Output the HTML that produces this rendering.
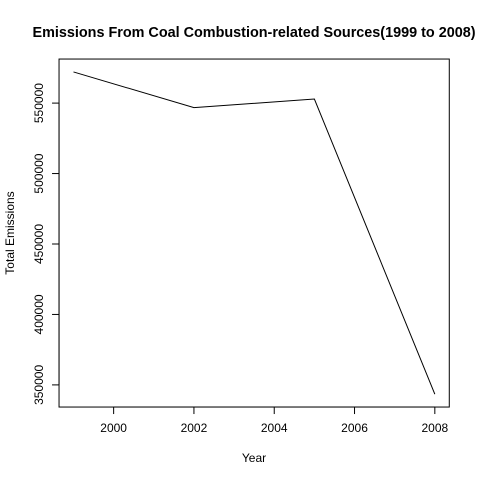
<!DOCTYPE html>
<html><head><meta charset="utf-8"><style>
html,body{margin:0;padding:0;background:#fff;}
svg{display:block;font-family:"Liberation Sans",Arial,sans-serif;}
</style></head><body>
<svg id="chart" width="480" height="480">
<rect width="480" height="480" fill="#fff"/>
<text x="254" y="37" text-anchor="middle" font-size="14.4" font-weight="bold">Emissions From Coal Combustion-related Sources(1999 to 2008)</text>
<rect x="59.04" y="59.04" width="390.24" height="348" fill="none" stroke="#000" stroke-width="1"/>
<g id="xaxis"></g>
<g id="yaxis"></g>
<text x="254" y="462" text-anchor="middle" font-size="12">Year</text>
<text transform="translate(14,233) rotate(-90)" text-anchor="middle" font-size="12">Total Emissions</text>
<path id="line" fill="none" stroke="#000" stroke-width="1"/>
</svg>
<script>
const years = [1999, 2002, 2005, 2008];
const emissions = [572126, 546789, 552881, 343432];
const xTicks = [2000, 2002, 2004, 2006, 2008];
const yTicks = [350000, 400000, 450000, 500000, 550000];

const L = 59.04, R = 449.28, T = 59.04, B = 407.04;
const xmin = Math.min(...years), xmax = Math.max(...years);
const ymin = Math.min(...emissions), ymax = Math.max(...emissions);
const xlo = xmin - 0.04*(xmax-xmin), xhi = xmax + 0.04*(xmax-xmin);
const ylo = ymin - 0.04*(ymax-ymin), yhi = ymax + 0.04*(ymax-ymin);
const sx = v => L + (v - xlo)/(xhi - xlo)*(R - L);
const sy = v => B - (v - ylo)/(yhi - ylo)*(B - T);
const NS = "http://www.w3.org/2000/svg";

const xg = document.getElementById('xaxis');
const xl = document.createElementNS(NS,'line');
xl.setAttribute('x1', sx(xTicks[0])); xl.setAttribute('x2', sx(xTicks[xTicks.length-1]));
xl.setAttribute('y1', B); xl.setAttribute('y2', B); xl.setAttribute('stroke','#000');


xg.appendChild(xl);
xTicks.forEach(t => {
  const tk = document.createElementNS(NS,'line');
  tk.setAttribute('x1', sx(t)); tk.setAttribute('x2', sx(t));
  tk.setAttribute('y1', B); tk.setAttribute('y2', B+7); tk.setAttribute('stroke','#000');
  
  
  xg.appendChild(tk);
  const tx = document.createElementNS(NS,'text');
  tx.setAttribute('x', sx(t)); tx.setAttribute('y', B+25);
  tx.setAttribute('text-anchor','middle'); tx.setAttribute('font-size','12');
  tx.textContent = t;
  
  
  xg.appendChild(tx);
});

const yg = document.getElementById('yaxis');
const yl = document.createElementNS(NS,'line');
yl.setAttribute('y1', sy(yTicks[0])); yl.setAttribute('y2', sy(yTicks[yTicks.length-1]));
yl.setAttribute('x1', L); yl.setAttribute('x2', L); yl.setAttribute('stroke','#000');


yg.appendChild(yl);
yTicks.forEach(t => {
  const tk = document.createElementNS(NS,'line');
  tk.setAttribute('y1', sy(t)); tk.setAttribute('y2', sy(t));
  tk.setAttribute('x1', L); tk.setAttribute('x2', L-7); tk.setAttribute('stroke','#000');
  
  
  yg.appendChild(tk);
  const tx = document.createElementNS(NS,'text');
  tx.setAttribute('transform', `translate(${L-16},${sy(t)}) rotate(-90)`);
  tx.setAttribute('text-anchor','middle'); tx.setAttribute('font-size','12');
  tx.textContent = t;
  
  
  yg.appendChild(tx);
});

document.getElementById('line').setAttribute('d',
  years.map((y,i) => (i?'L':'M') + sx(y).toFixed(2) + ',' + sy(emissions[i]).toFixed(2)).join(' '));
</script>
</body></html>
